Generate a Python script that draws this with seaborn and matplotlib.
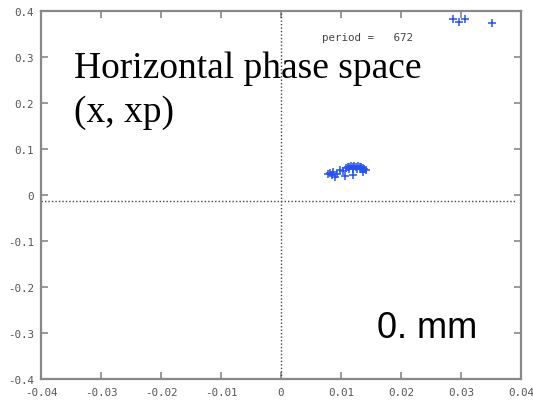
import matplotlib
matplotlib.use("Agg")
import matplotlib.pyplot as plt
import seaborn as sns
import pandas as pd

# Turn-by-turn tracking samples in horizontal phase space
x_vals = [0.0078, 0.0082, 0.0085, 0.0087, 0.0090, 0.0093, 0.0098, 0.0103, 0.0107,
          0.0108, 0.0111, 0.0114, 0.0117, 0.0120, 0.0122, 0.0125, 0.0128, 0.0131,
          0.0134, 0.0137, 0.0139, 0.0141, 0.0113, 0.0120, 0.0127, 0.0133, 0.0120,
          0.0137, 0.0287, 0.0297, 0.0307, 0.0352]
xp_vals = [0.046, 0.048, 0.0435, 0.050, 0.039, 0.045, 0.054, 0.052, 0.041,
           0.058, 0.060, 0.061, 0.062, 0.061, 0.062, 0.061, 0.062, 0.061,
           0.060, 0.058, 0.056, 0.055, 0.056, 0.057, 0.056, 0.057, 0.0435,
           0.050, 0.383, 0.376, 0.383, 0.374]

x_ticks = [-0.04, -0.03, -0.02, -0.01, 0, 0.01, 0.02, 0.03, 0.04]
y_ticks = [-0.4, -0.3, -0.2, -0.1, 0, 0.1, 0.2, 0.3, 0.4]
x_ticklabels = ["-0.04", "-0.03", "-0.02", "-0.01", "0", "0.01", "0.02", "0.03", "0.04"]
y_ticklabels = ["-0.4", "-0.3", "-0.2", "-0.1", "0", "0.1", "0.2", "0.3", "0.4"]

period = 672
offset_label = "0. mm"
closed_orbit_xp = -0.012

df = pd.DataFrame({"x": x_vals, "xp": xp_vals})

sns.set_theme(style="white")
fig = plt.figure(figsize=(5.33, 4.02), dpi=100)
ax = fig.add_axes([0.0769, 0.0547, 0.9006, 0.9154])

# Reference cross-hair
ax.axvline(0, color="#444444", lw=1.0, ls=(0, (1, 1.5)), zorder=1)
ax.plot([-0.04, 0.039], [closed_orbit_xp, closed_orbit_xp], color="#444444",
        lw=1.0, ls=(0, (1, 1.5)), zorder=1)

sns.scatterplot(data=df, x="x", y="xp", marker="+", s=28, linewidth=1.1,
                color="#2352f8", ax=ax, zorder=3)

ax.set_xlim(-0.04, 0.04)
ax.set_ylim(-0.4, 0.4)
ax.set_xticks(x_ticks)
ax.set_yticks(y_ticks)
ax.set_xticklabels(x_ticklabels)
ax.set_yticklabels(y_ticklabels)
ax.set_xlabel("")
ax.set_ylabel("")

for lbl in ax.get_xticklabels() + ax.get_yticklabels():
    lbl.set_family("DejaVu Sans Mono")
    lbl.set_fontsize(7.8)
    lbl.set_color("#555555")

ax.tick_params(axis="both", direction="in", length=5, width=1.2, color="#888888",
               top=True, right=True, bottom=True, left=True, pad=5)
ax.tick_params(axis="x", pad=6)
for sp in ax.spines.values():
    sp.set_color("#888888")
    sp.set_linewidth(1.6)

ax.text(0.0068, 0.343, f"period =   {period}", family="DejaVu Sans Mono",
        fontsize=7.8, color="#444444", ha="left", va="center")

fig.text(74 / 533, 1 - 122 / 402, "Horizontal phase space\n(x, xp)",
         family="Liberation Serif", fontsize=27, color="black",
         ha="left", va="baseline", linespacing=1.36)
fig.text(377 / 533, 1 - 338 / 402, offset_label,
         family="Liberation Sans", fontsize=26, color="black",
         ha="left", va="baseline")

fig.savefig("out.png", dpi=100)
